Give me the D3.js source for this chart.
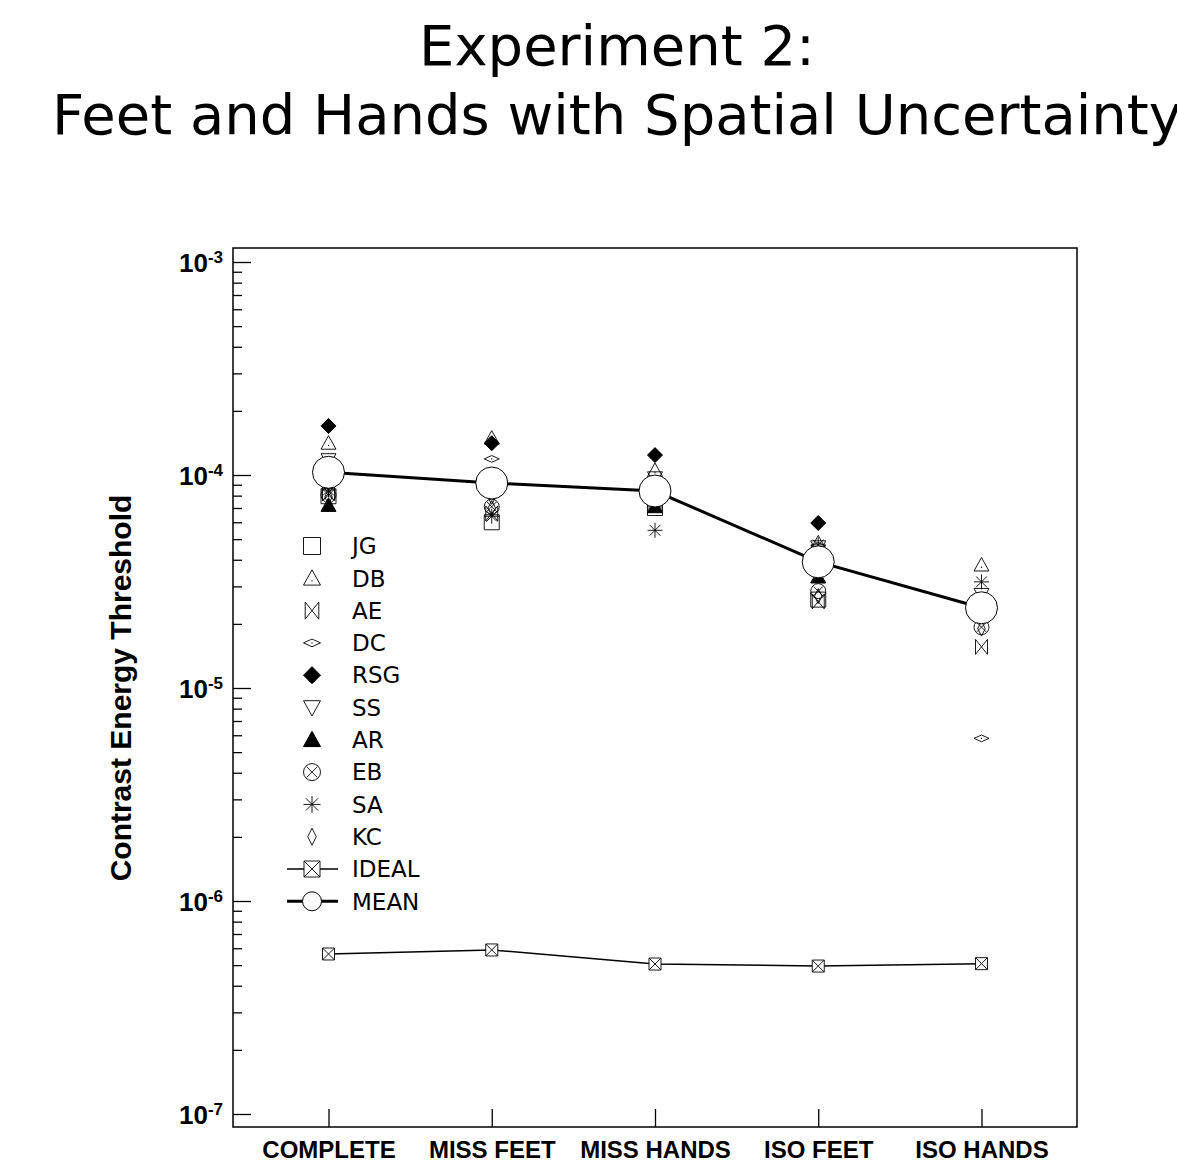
<!DOCTYPE html>
<html>
<head>
<meta charset="utf-8">
<script src="https://cdn.jsdelivr.net/npm/d3@7"></script>
<style>
    html, body { margin: 0; padding: 0; background: #ffffff; }
    svg { display: block; }
</style>
</head>
<body>
<div id="chart"></div>
<script>
'use strict';

// conditions on the x axis
var categories = ['COMPLETE', 'MISS FEET', 'MISS HANDS', 'ISO FEET', 'ISO HANDS'];

// subject thresholds (contrast energy), one value per condition
var subjects = ['JG', 'DB', 'AE', 'DC', 'RSG', 'SS', 'AR', 'EB', 'SA', 'KC'];
var JG  = [7.95e-5, 6.0e-5, 7.0e-5, 2.6e-5, 2.5e-5];
var DB  = [1.41e-4, 1.49e-4, 1.05e-4, 4.8e-5, 3.78e-5];
var AE  = [8.2e-5, 6.6e-5, 7.2e-5, 2.55e-5, 1.56e-5];
var DC  = [9.6e-5, 1.19e-4, 8.6e-5, 4.65e-5, 5.8e-6];
var RSG = [1.70e-4, 1.41e-4, 1.24e-4, 5.95e-5, 2.4e-5];
var SS  = [1.18e-4, 7.9e-5, 9.7e-5, 4.6e-5, 2.75e-5];
var AR  = [7.2e-5, 9.0e-5, 7.1e-5, 3.32e-5, 2.3e-5];
var EB  = [8.05e-5, 7.1e-5, 8.0e-5, 2.85e-5, 1.93e-5];
var SA  = [8.5e-5, 6.4e-5, 5.5e-5, 4.7e-5, 3.15e-5];
var KC  = [7.9e-5, 7.0e-5, 8.2e-5, 2.7e-5, 1.9e-5];

var IDEAL = [5.64e-7, 5.89e-7, 5.06e-7, 4.95e-7, 5.08e-7];
var MEAN  = [1.03e-4, 9.17e-5, 8.41e-5, 3.91e-5, 2.38e-5];

// y axis decades
var yDecades = [1e-7, 1e-6, 1e-5, 1e-4, 1e-3];
var yExponents = ['-7', '-6', '-5', '-4', '-3'];

var subjectValues = [JG, DB, AE, DC, RSG, SS, AR, EB, SA, KC];
var subjectMarkers = ['square', 'triUp', 'bowtie', 'flatDiamond', 'diamond',
                      'triDown', 'triUpFilled', 'circleX', 'asterisk', 'thinDiamond'];

var W = 1177, H = 1165;
var frame = { left: 233, right: 1077, top: 248, bottom: 1127 };

var svg = d3.select('#chart').append('svg')
    .attr('width', W)
    .attr('height', H)
    .attr('viewBox', '0 0 ' + W + ' ' + H);

var x = d3.scalePoint()
    .domain(categories)
    .range([frame.left, frame.right])
    .padding(0.585);

var y = d3.scaleLog()
    .domain([1e-7, 1e-3])
    .range([1114, 262]);

// marker path builders, h = half size
var markerPath = {
    square: function(h) {
        return 'M' + (-h) + ',' + (-h) + 'H' + h + 'V' + h + 'H' + (-h) + 'Z';
    },
    triUp: function(h) {
        return 'M0,' + (-h) + 'L' + h + ',' + (h * 0.8) + 'H' + (-h) + 'Z';
    },
    triUpFilled: function(h) {
        return 'M0,' + (-h) + 'L' + h + ',' + (h * 0.8) + 'H' + (-h) + 'Z';
    },
    triDown: function(h) {
        return 'M0,' + h + 'L' + h + ',' + (-h * 0.8) + 'H' + (-h) + 'Z';
    },
    bowtie: function(h) {
        return 'M' + (-h * 0.8) + ',' + (-h) + 'L' + (h * 0.8) + ',' + h + 'V' + (-h) +
            'L' + (-h * 0.8) + ',' + h + 'Z';
    },
    flatDiamond: function(h) {
        return 'M' + (-h) + ',0L0,' + (-h * 0.45) + 'L' + h + ',0L0,' + (h * 0.45) + 'Z';
    },
    diamond: function(h) {
        return 'M0,' + (-h) + 'L' + h + ',0L0,' + h + 'L' + (-h) + ',0Z';
    },
    thinDiamond: function(h) {
        return 'M0,' + (-h) + 'L' + (h * 0.5) + ',0L0,' + h + 'L' + (-h * 0.5) + ',0Z';
    },
    circleX: function(h) {
        var d = h * 0.62;
        return 'M' + (-h) + ',0A' + h + ',' + h + ' 0 1,1 ' + h + ',0A' + h + ',' + h + ' 0 1,1 ' + (-h) + ',0Z' +
            'M' + (-d) + ',' + (-d) + 'L' + d + ',' + d + 'M' + d + ',' + (-d) + 'L' + (-d) + ',' + d;
    },
    asterisk: function(h) {
        var d = h * 0.72;
        return 'M0,' + (-h) + 'V' + h + 'M' + (-h) + ',0H' + h +
            'M' + (-d) + ',' + (-d) + 'L' + d + ',' + d + 'M' + d + ',' + (-d) + 'L' + (-d) + ',' + d;
    },
    squareX: function(h) {
        return 'M' + (-h) + ',' + (-h) + 'H' + h + 'V' + h + 'H' + (-h) + 'Z' +
            'M' + (-h) + ',' + (-h) + 'L' + h + ',' + h + 'M' + h + ',' + (-h) + 'L' + (-h) + ',' + h;
    }
};

var filledMarkers = { diamond: true, triUpFilled: true };

function drawMarker(target, type, cx, cy, h) {
    var filled = filledMarkers[type] === true;
    target.append('path')
        .attr('transform', 'translate(' + cx + ',' + cy + ')')
        .attr('d', markerPath[type](h))
        .attr('fill', filled ? '#000000' : 'none')
        .attr('stroke', '#000000')
        .attr('stroke-width', filled ? 1 : 0.9)
        .attr('stroke-linejoin', 'miter');
    // little centre dot for the open triangle and flat diamond
    if (type === 'triUp' || type === 'flatDiamond') {
        target.append('circle')
            .attr('cx', cx)
            .attr('cy', cy + (type === 'triUp' ? h * 0.3 : 0))
            .attr('r', 0.7)
            .attr('fill', '#000000');
    }
}

// title
var title = svg.append('g')
    .attr('font-family', 'DejaVu Sans, sans-serif')
    .attr('font-size', '56px')
    .attr('fill', '#000000')
    .attr('text-anchor', 'middle');
title.append('text').attr('x', 617).attr('y', 65).text('Experiment 2:');
title.append('text').attr('x', 617).attr('y', 134).text('Feet and Hands with Spatial Uncertainty');

// frame
svg.append('rect')
    .attr('x', frame.left)
    .attr('y', frame.top)
    .attr('width', frame.right - frame.left)
    .attr('height', frame.bottom - frame.top)
    .attr('fill', 'none')
    .attr('stroke', '#000000')
    .attr('stroke-width', 1.5);

// y axis: minor ticks
var minorTicks = y.ticks().filter(function(t) {
    return yDecades.indexOf(t) < 0;
});
svg.append('g')
    .attr('transform', 'translate(' + frame.left + ',0)')
    .call(d3.axisLeft(y).tickValues(minorTicks).tickSize(-9).tickFormat(''))
    .call(function(g) {
        g.select('.domain').remove();
        g.selectAll('line').attr('stroke', '#000000').attr('stroke-width', 1.3);
    });

// y axis: decades with 10^n labels
var yAxisG = svg.append('g')
    .attr('transform', 'translate(' + frame.left + ',0)')
    .call(d3.axisLeft(y).tickValues(yDecades).tickSize(-18).tickPadding(10).tickFormat(''))
    .call(function(g) {
        g.select('.domain').remove();
        g.selectAll('line').attr('stroke', '#000000').attr('stroke-width', 1.3);
    });

yAxisG.selectAll('.tick text')
    .attr('font-family', 'Liberation Sans, Arial, sans-serif')
    .attr('font-weight', 'bold')
    .attr('font-size', '26px')
    .attr('fill', '#000000')
    .attr('text-anchor', 'end')
    .attr('dy', '0.36em')
    .each(function(d, i) {
        var t = d3.select(this);
        t.append('tspan').text('10');
        t.append('tspan')
            .attr('dy', '-0.55em')
            .attr('font-size', '17px')
            .text(yExponents[i]);
    });

// y axis title
svg.append('text')
    .attr('transform', 'translate(131,688) rotate(-90)')
    .attr('text-anchor', 'middle')
    .attr('font-family', 'Liberation Sans, Arial, sans-serif')
    .attr('font-weight', 'bold')
    .attr('font-size', '30px')
    .attr('fill', '#000000')
    .text('Contrast Energy Threshold');

// x axis
svg.append('g')
    .attr('transform', 'translate(0,' + frame.bottom + ')')
    .call(d3.axisBottom(x).tickSize(-18).tickPadding(14))
    .call(function(g) {
        g.select('.domain').remove();
        g.selectAll('line').attr('stroke', '#000000').attr('stroke-width', 1.3);
        g.selectAll('text')
            .attr('font-family', 'Liberation Sans, Arial, sans-serif')
            .attr('font-weight', 'bold')
            .attr('font-size', '24px')
            .attr('fill', '#000000');
    });

// subject markers
var marks = svg.append('g').attr('id', 'subjects-layer');
subjectValues.forEach(function(values, s) {
    values.forEach(function(v, i) {
        drawMarker(marks, subjectMarkers[s], x(categories[i]), y(v), 7.5);
    });
});

// ideal observer
var line = d3.line()
    .x(function(d, i) { return x(categories[i]); })
    .y(function(d) { return y(d); });

var idealG = svg.append('g').attr('id', 'ideal-layer');
idealG.append('path')
    .attr('d', line(IDEAL))
    .attr('fill', 'none')
    .attr('stroke', '#000000')
    .attr('stroke-width', 1.5);
IDEAL.forEach(function(v, i) {
    idealG.append('path')
        .attr('transform', 'translate(' + x(categories[i]) + ',' + y(v) + ')')
        .attr('d', markerPath.squareX(6))
        .attr('fill', '#ffffff')
        .attr('stroke', '#000000')
        .attr('stroke-width', 0.9);
});

// mean
var meanG = svg.append('g').attr('id', 'mean-layer');
meanG.append('path')
    .attr('d', line(MEAN))
    .attr('fill', 'none')
    .attr('stroke', '#000000')
    .attr('stroke-width', 3);
meanG.selectAll('circle')
    .data(MEAN)
    .enter().append('circle')
    .attr('cx', function(d, i) { return x(categories[i]); })
    .attr('cy', function(d) { return y(d); })
    .attr('r', 16)
    .attr('fill', '#ffffff')
    .attr('stroke', '#000000')
    .attr('stroke-width', 1);

// legend
var legend = svg.append('g')
    .attr('id', 'legend-layer')
    .attr('font-family', 'DejaVu Sans, sans-serif')
    .attr('font-size', '23px')
    .attr('fill', '#000000');
var rowY = function(i) { return 546 + i * 32.3; };

subjects.forEach(function(name, i) {
    drawMarker(legend, subjectMarkers[i], 312, rowY(i), 8.5);
    legend.append('text')
        .attr('x', 352)
        .attr('y', rowY(i))
        .attr('dy', '0.36em')
        .text(name);
});

var iIdeal = subjects.length, iMean = subjects.length + 1;
legend.append('line')
    .attr('x1', 287).attr('x2', 338)
    .attr('y1', rowY(iIdeal)).attr('y2', rowY(iIdeal))
    .attr('stroke', '#000000').attr('stroke-width', 1.5);
legend.append('path')
    .attr('transform', 'translate(312,' + rowY(iIdeal) + ')')
    .attr('d', markerPath.squareX(8))
    .attr('fill', '#ffffff')
    .attr('stroke', '#000000')
    .attr('stroke-width', 0.9);
legend.append('text')
    .attr('x', 352).attr('y', rowY(iIdeal)).attr('dy', '0.36em')
    .text('IDEAL');

legend.append('line')
    .attr('x1', 287).attr('x2', 338)
    .attr('y1', rowY(iMean)).attr('y2', rowY(iMean))
    .attr('stroke', '#000000').attr('stroke-width', 3);
legend.append('circle')
    .attr('cx', 312).attr('cy', rowY(iMean)).attr('r', 9.5)
    .attr('fill', '#ffffff')
    .attr('stroke', '#000000')
    .attr('stroke-width', 1);
legend.append('text')
    .attr('x', 352).attr('y', rowY(iMean)).attr('dy', '0.36em')
    .text('MEAN');
</script>
</body>
</html>
